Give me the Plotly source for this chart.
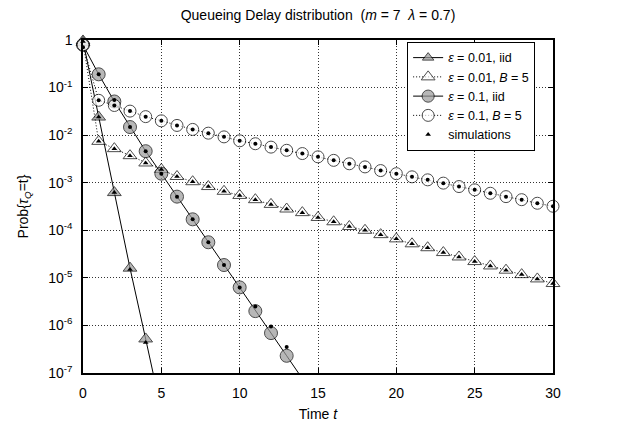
import plotly.graph_objects as go

# ---------------- data ----------------
t_iid01 = [0, 1, 2, 3, 4, 5]
p_iid01 = [0.955, 2.4e-2, 6.2e-4, 1.6e-5, 5.2e-7, 1.6e-8]

t_b5_01 = list(range(0, 31))
p_b5_01 = [0.89, 7.4e-3, 5.2e-3, 3.7e-3, 2.6e-3, 1.9e-3, 1.35e-3, 1.05e-3, 8.3e-4, 6.6e-4,
           5.4e-4, 4.4e-4, 3.5e-4, 2.8e-4, 2.35e-4, 1.86e-4, 1.51e-4, 1.2e-4, 1.0e-4, 8.1e-5,
           6.6e-5, 5.2e-5, 4.3e-5, 3.4e-5, 2.75e-5, 2.2e-5, 1.78e-5, 1.45e-5, 1.17e-5, 9.5e-6,
           7.6e-6]

t_iid1 = list(range(0, 15))
p_iid1 = [0.79, 0.19, 5.1e-2, 1.48e-2, 4.6e-3, 1.55e-3, 5.1e-4, 1.7e-4, 5.6e-5, 1.86e-5,
          6.3e-6, 2.0e-6, 6.9e-7, 2.3e-7, 7.6e-8]

t_b5_1 = list(range(0, 31))
p_b5_1 = [0.79, 5.4e-2, 4.2e-2, 3.2e-2, 2.45e-2, 2.0e-2, 1.6e-2, 1.32e-2, 1.1e-2, 9.2e-3,
          7.6e-3, 6.6e-3, 5.6e-3, 4.8e-3, 4.1e-3, 3.5e-3, 2.95e-3, 2.5e-3, 2.15e-3, 1.8e-3,
          1.55e-3, 1.33e-3, 1.15e-3, 9.8e-4, 8.3e-4, 7.1e-4, 6.0e-4, 5.1e-4, 4.4e-4, 3.7e-4,
          3.2e-4]

# simulations (eps = 0.01 -> small triangles, eps = 0.1 -> small dots)
t_sim01_iid = [0, 1, 2, 3, 4]
p_sim01_iid = [0.93, 2.4e-2, 6.2e-4, 1.5e-5, 4.4e-7]
t_sim01_b5 = t_b5_01[1:]
p_sim01_b5 = p_b5_01[1:]

t_sim1_iid = list(range(0, 14))
p_sim1_iid = [0.7, 0.19, 5.5e-2, 1.48e-2, 4.6e-3, 1.55e-3, 5.1e-4, 1.7e-4, 5.6e-5, 1.86e-5,
              6.3e-6, 2.5e-6, 9.5e-7, 3.5e-7]
t_sim1_b5 = t_b5_1[1:]
p_sim1_b5 = p_b5_1[1:]

x_ticks = [0, 5, 10, 15, 20, 25, 30]
y_ticks = [1e-7, 1e-6, 1e-5, 1e-4, 1e-3, 1e-2, 1e-1, 1]
y_ticktext = ["10<sup>-7</sup>", "10<sup>-6</sup>", "10<sup>-5</sup>", "10<sup>-4</sup>",
              "10<sup>-3</sup>", "10<sup>-2</sup>", "10<sup>-1</sup>", "1"]

YMIN = 1e-7


def sizes(vals, s):
    return [s if v >= YMIN else 0 for v in vals]


GRAY = "#9a9a9a"
FONT = "Liberation Sans, Arial, sans-serif"
DOT = "1px,2px"

# the page body has an 8px margin, so the figure is sized to fit the 632x429 window
W, H = 624, 421

fig = go.Figure()

fig.add_trace(go.Scatter(
    x=t_iid01, y=p_iid01, mode="lines+markers", name="<i>ε</i> = 0.01, iid",
    line=dict(color="black", width=1),
    marker=dict(symbol="triangle-up", size=sizes(p_iid01, 12), color=GRAY,
                line=dict(color="black", width=1)),
    cliponaxis=False))

fig.add_trace(go.Scatter(
    x=t_b5_01, y=p_b5_01, mode="lines+markers", name="<i>ε</i> = 0.01, <i>B</i> = 5",
    line=dict(color="black", width=1, dash=DOT),
    marker=dict(symbol="triangle-up", size=sizes(p_b5_01, 12), color="white",
                line=dict(color="black", width=1)),
    cliponaxis=False))

fig.add_trace(go.Scatter(
    x=t_iid1, y=p_iid1, mode="lines+markers", name="<i>ε</i> = 0.1, iid",
    line=dict(color="black", width=1),
    marker=dict(symbol="circle", size=sizes(p_iid1, 13), color=GRAY,
                line=dict(color="black", width=1)),
    cliponaxis=False))

fig.add_trace(go.Scatter(
    x=t_b5_1, y=p_b5_1, mode="lines+markers", name="<i>ε</i> = 0.1, <i>B</i> = 5",
    line=dict(color="black", width=1, dash=DOT),
    marker=dict(symbol="circle", size=sizes(p_b5_1, 12), color="white",
                line=dict(color="black", width=1)),
    cliponaxis=False))

fig.add_trace(go.Scatter(
    x=t_sim01_iid + t_sim01_b5, y=p_sim01_iid + p_sim01_b5, mode="markers",
    name="simulations", legendgroup="sim",
    marker=dict(symbol="triangle-up", size=5, color="black"),
    cliponaxis=False))

fig.add_trace(go.Scatter(
    x=t_sim1_iid + t_sim1_b5, y=p_sim1_iid + p_sim1_b5, mode="markers",
    name="simulations", legendgroup="sim", showlegend=False,
    marker=dict(symbol="circle", size=4, color="black"),
    cliponaxis=False))

axis_common = dict(
    showline=True, linecolor="black", linewidth=1.5, mirror="ticks",
    ticks="inside", ticklen=5, tickcolor="black", automargin=False,
    showgrid=True, gridcolor="#333333", griddash=DOT, gridwidth=1,
    zeroline=False, tickfont=dict(family=FONT, size=14, color="black"),
)

fig.update_xaxes(range=[0, 30], tickvals=x_ticks, ticklabelstandoff=6,
                 title=dict(text="Time <i>t</i>", font=dict(family=FONT, size=14, color="black"),
                            standoff=10),
                 **axis_common)
fig.update_yaxes(type="log", range=[-7, 0], tickvals=y_ticks, ticktext=y_ticktext,
                 ticklabelstandoff=6,
                 title=dict(text="Prob{<i>τ</i><sub><i>Q</i></sub>=t}",
                            font=dict(family=FONT, size=14, color="black"), standoff=16),
                 **axis_common)

fig.update_layout(
    width=W, height=H,
    margin=dict(l=75, r=79, t=32, b=56),
    paper_bgcolor="white", plot_bgcolor="white",
    font=dict(family=FONT, size=14, color="black"),
    title=dict(text="Queueing Delay distribution  (<i>m</i> = 7  <i>λ</i> = 0.7)",
               x=0.5, xref="paper", xanchor="center",
               y=1 - 7 / H, yref="container", yanchor="middle",
               font=dict(family=FONT, size=14, color="black")),
    legend=dict(x=0.962, xanchor="right", y=0.994, yanchor="top",
                bgcolor="white", bordercolor="black", borderwidth=1,
                font=dict(family=FONT, size=12.5, color="black"),
                tracegroupgap=0, itemwidth=30),
    showlegend=True,
)

fig.write_html("out.html")
